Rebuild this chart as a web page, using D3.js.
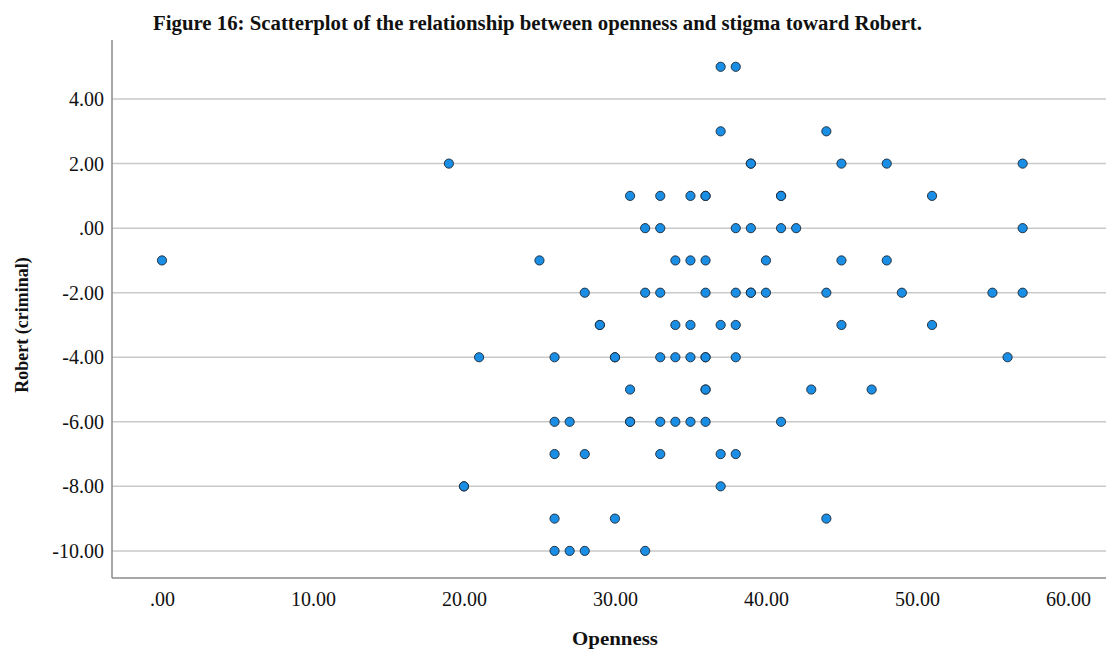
<!DOCTYPE html>
<html>
<head>
<meta charset="utf-8">
<script src="https://cdn.jsdelivr.net/npm/d3@7"></script>
<style>
  body { margin: 0; background: #fff; }
  text { font-family: "Liberation Serif", "Times New Roman", serif; fill: #111; }
</style>
</head>
<body>
<script>
// openness scores per stigma level (duplicates = overlapping cases)
const robertLevels = [5, 3, 2, 1, 0, -1, -2, -3, -4, -5, -6, -7, -8, -9, -10];
const opennessByLevel = [
  [37, 38],
  [37, 44],
  [19, 39, 39, 45, 48, 57],
  [31, 33, 35, 36, 36, 41, 41, 51],
  [32, 33, 38, 39, 41, 42, 57],
  [0, 25, 34, 35, 36, 40, 45, 48],
  [28, 32, 33, 36, 38, 39, 39, 40, 44, 49, 55, 57],
  [29, 29, 34, 35, 37, 38, 45, 51],
  [21, 26, 30, 30, 33, 34, 35, 36, 36, 38, 56],
  [31, 36, 36, 43, 47],
  [26, 27, 31, 31, 33, 34, 35, 36, 41],
  [26, 28, 33, 37, 38],
  [20, 20, 37],
  [26, 30, 44],
  [26, 27, 28, 32]
];
const xTicks = [0, 10, 20, 30, 40, 50, 60];
const yTicks = [4, 2, 0, -2, -4, -6, -8, -10];

const W = 1106, H = 649;
const plotLeft = 112, plotRight = 1106, plotTop = 40, plotBottom = 578;

const points = [];
robertLevels.forEach((r, i) => {
  opennessByLevel[i].forEach(o => points.push({ x: o, y: r }));
});

const x = d3.scaleLinear().domain([-3.31, 62.52]).range([plotLeft, plotRight]);
const y = d3.scaleLinear().domain([-10.84, 5.83]).range([plotBottom, plotTop]);

// SPSS style: ".00", "-2.00" with a plain hyphen
const fmt = v => {
  let s = d3.format(".2f")(v).replace("\u2212", "-");
  return s.replace(/^0\./, ".").replace(/^-0\./, "-.");
};

const svg = d3.select("body").append("svg")
  .attr("width", W).attr("height", H);

// gridlines
svg.append("g")
  .selectAll("line")
  .data(yTicks)
  .join("line")
  .attr("x1", plotLeft).attr("x2", plotRight)
  .attr("y1", d => y(d)).attr("y2", d => y(d))
  .attr("stroke", "#c9c9c9")
  .attr("stroke-width", 1.5);

// y axis
const yAxis = svg.append("g")
  .attr("transform", `translate(${plotLeft},0)`)
  .call(d3.axisLeft(y).tickValues(yTicks).tickSize(0).tickPadding(8).tickFormat(fmt));
yAxis.select(".domain").remove();
yAxis.selectAll("text")
  .attr("font-size", 20)
  .attr("font-family", "Liberation Serif")
  .attr("fill", "#111");

// x axis
const xAxis = svg.append("g")
  .attr("transform", `translate(0,${plotBottom})`)
  .call(d3.axisBottom(x).tickValues(xTicks).tickSize(0).tickPadding(14).tickFormat(fmt));
xAxis.select(".domain").remove();
xAxis.selectAll("text")
  .attr("font-size", 20)
  .attr("font-family", "Liberation Serif")
  .attr("fill", "#111");

// axis lines
svg.append("line")
  .attr("x1", plotLeft).attr("x2", plotLeft).attr("y1", plotTop).attr("y2", plotBottom)
  .attr("stroke", "#8a8a8a").attr("stroke-width", 1.5);
svg.append("line")
  .attr("x1", plotLeft).attr("x2", plotRight).attr("y1", plotBottom).attr("y2", plotBottom)
  .attr("stroke", "#8a8a8a").attr("stroke-width", 1.5);

// points
svg.append("g")
  .selectAll("circle")
  .data(points)
  .join("circle")
  .attr("cx", d => x(d.x))
  .attr("cy", d => y(d.y))
  .attr("r", 4.6)
  .attr("fill", "#1a8ee4")
  .attr("stroke", "#1c2733")
  .attr("stroke-width", 0.9);

// title + axis labels
svg.append("text")
  .attr("x", 153).attr("y", 30)
  .attr("font-size", 20).attr("font-weight", "bold")
  .attr("textLength", 769).attr("lengthAdjust", "spacingAndGlyphs")
  .text("Figure 16: Scatterplot of the relationship between openness and stigma toward Robert.");

svg.append("text")
  .attr("transform", `translate(28,325) rotate(-90)`)
  .attr("text-anchor", "middle")
  .attr("font-size", 18).attr("font-weight", "bold")
  .text("Robert (criminal)");

svg.append("text")
  .attr("x", 572).attr("y", 645)
  .attr("font-size", 19).attr("font-weight", "bold")
  .attr("textLength", 86).attr("lengthAdjust", "spacingAndGlyphs")
  .text("Openness");
</script>
</body>
</html>
